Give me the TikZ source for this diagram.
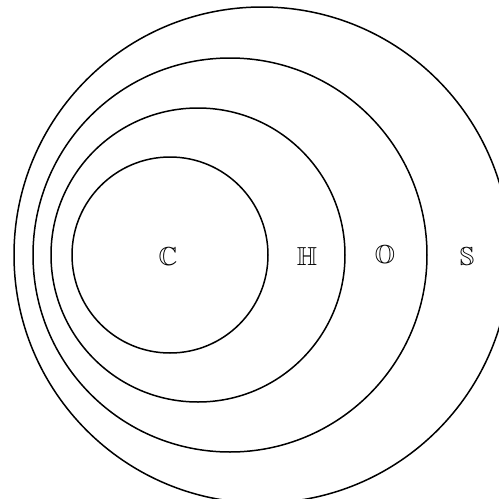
\documentclass[tikz,border=0pt]{standalone}
\usepackage{amssymb}
\begin{document}
\begin{tikzpicture}[x=1pt,y=-1pt,
  ring/.style={draw=black,line width=1.5pt},
  setlabel/.style={inner sep=0pt,font=\fontsize{26}{30}\selectfont}]
\useasboundingbox (0,0) rectangle (499,499);
\begin{scope}
\clip (0,0) rectangle (499,499);
\node[ring,circle,minimum size=196pt,inner sep=0pt] (cC) at (170,255) {};
\node[ring,circle,minimum size=294pt,inner sep=0pt] (cH) at (198,255) {};
\node[ring,circle,minimum size=394pt,inner sep=0pt] (cO) at (230,255) {};
\node[ring,circle,minimum size=496pt,inner sep=0pt] (cS) at (262,255) {};
\end{scope}
\node[setlabel] (C) at (168,257) {$\mathbb{C}$};
\node[setlabel] (H) at (307,257) {$\mathbb{H}$};
\node[setlabel] (O) at (385,257) {$\mathbb{O}$};
\node[setlabel] (S) at (467,257) {$\mathbb{S}$};
\end{tikzpicture}
\end{document}
